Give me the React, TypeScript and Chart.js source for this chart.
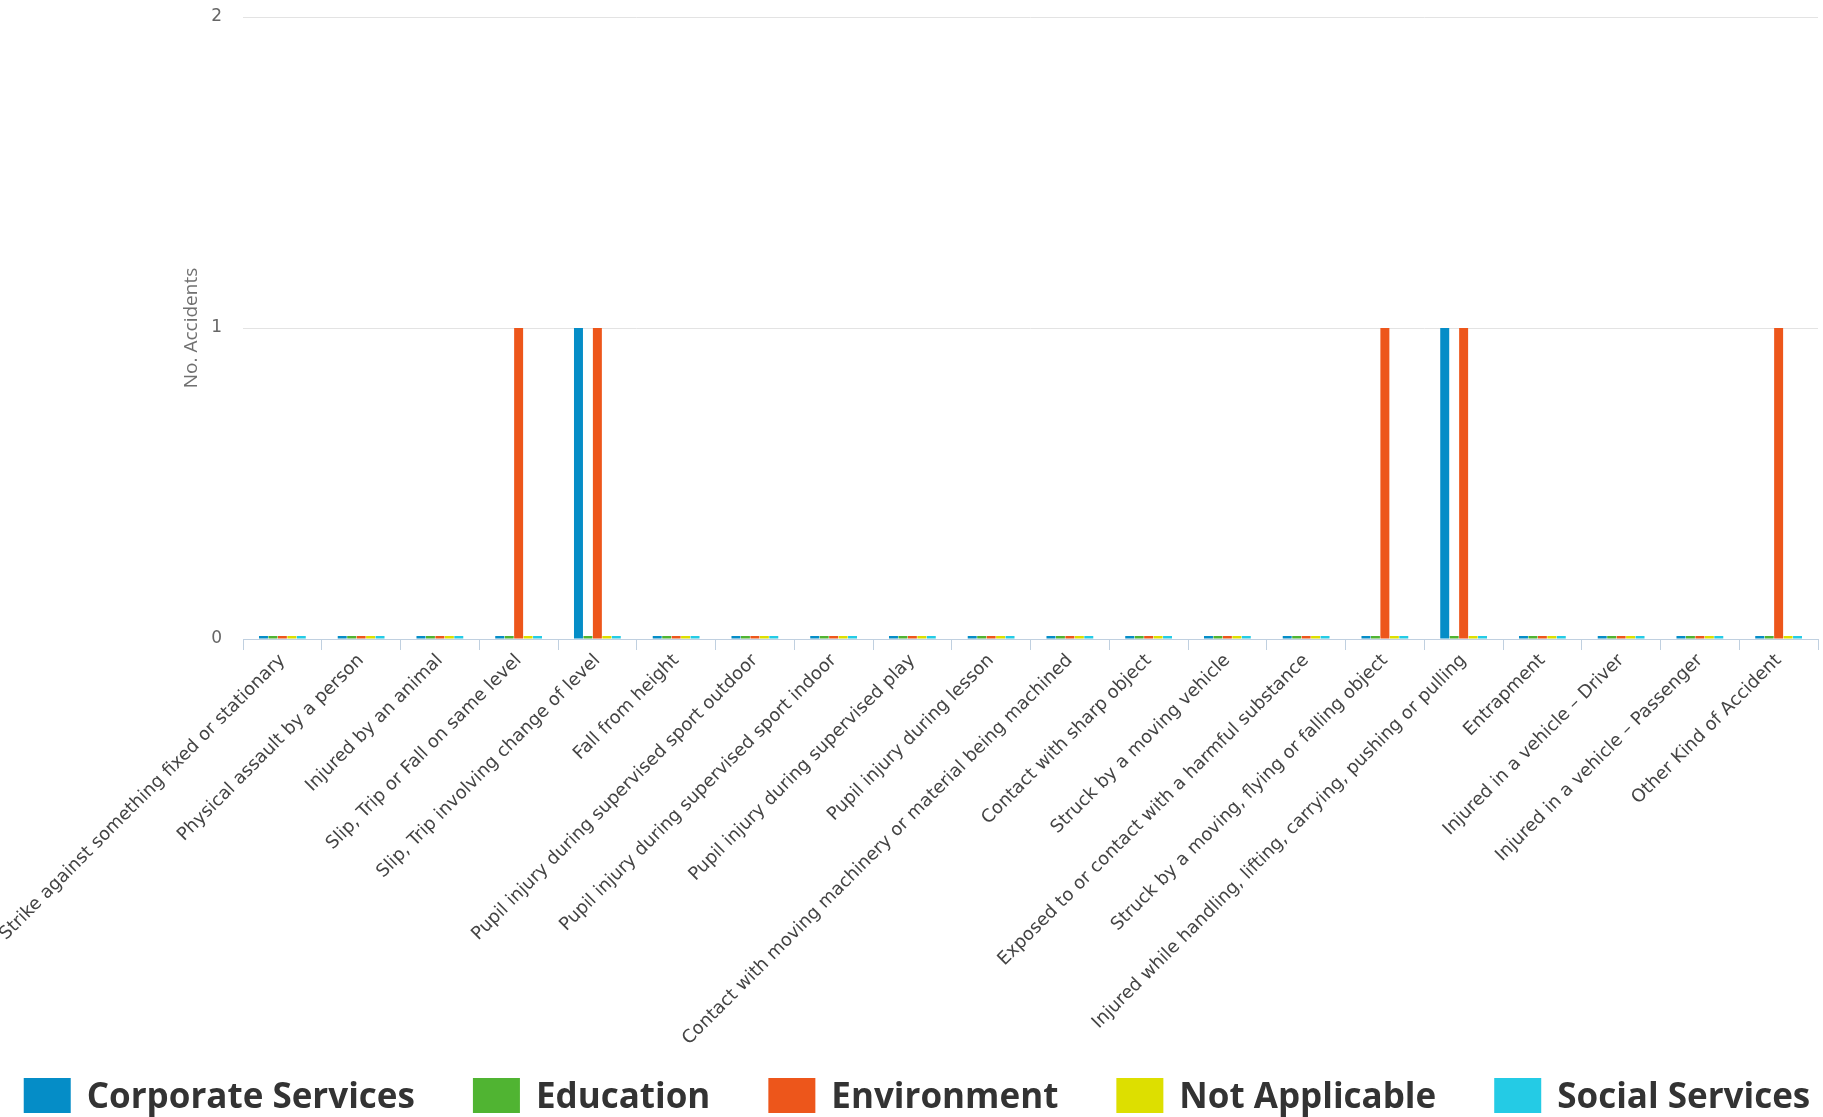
import React, { useEffect, useRef } from "react";
import { Chart, registerables } from "chart.js";

Chart.register(...registerables);

const categories = [
  "Strike against something fixed or stationary",
  "Physical assault by a person",
  "Injured by an animal",
  "Slip, Trip or Fall on same level",
  "Slip, Trip involving change of level",
  "Fall from height",
  "Pupil injury during supervised sport outdoor",
  "Pupil injury during supervised sport indoor",
  "Pupil injury during supervised play",
  "Pupil injury during lesson",
  "Contact with moving machinery or material being machined",
  "Contact with sharp object",
  "Struck by a moving vehicle",
  "Exposed to or contact with a harmful substance",
  "Struck by a moving, flying or falling object",
  "Injured while handling, lifting, carrying, pushing or pulling",
  "Entrapment",
  "Injured in a vehicle – Driver",
  "Injured in a vehicle – Passenger",
  "Other Kind of Accident",
];

const corporateServices = [0, 0, 0, 0, 1, 0, 0, 0, 0, 0, 0, 0, 0, 0, 0, 1, 0, 0, 0, 0];
const education = [0, 0, 0, 0, 0, 0, 0, 0, 0, 0, 0, 0, 0, 0, 0, 0, 0, 0, 0, 0];
const environment = [0, 0, 0, 1, 1, 0, 0, 0, 0, 0, 0, 0, 0, 0, 1, 1, 0, 0, 0, 1];
const notApplicable = [0, 0, 0, 0, 0, 0, 0, 0, 0, 0, 0, 0, 0, 0, 0, 0, 0, 0, 0, 0];
const socialServices = [0, 0, 0, 0, 0, 0, 0, 0, 0, 0, 0, 0, 0, 0, 0, 0, 0, 0, 0, 0];

const seriesNames = ["Corporate Services", "Education", "Environment", "Not Applicable", "Social Services"];
const seriesColors = ["#058DC7", "#50B432", "#ED561B", "#DDDF00", "#24CBE5"];

const yMin = 0;
const yMax = 2;
const yStep = 1;
const yTitle = "No. Accidents";

const W = 1823;
const H = 1117;

const legendPlugin = {
  id: "customLegend",
  afterDraw(chart: any) {
    const ctx = chart.ctx as CanvasRenderingContext2D;
    ctx.save();
    ctx.font = 'bold 35px "Open Sans"';
    const boxW = 47;
    const boxH = 35;
    const textGap = 16;
    const itemGap = 58;
    const items = chart.data.datasets.map((ds: any) => ({
      label: ds.label as string,
      color: ds.backgroundColor as string,
      w: ctx.measureText(ds.label).width,
    }));
    const total =
      items.reduce((s: number, it: any) => s + boxW + textGap + it.w, 0) + itemGap * (items.length - 1);
    let x = 917 - total / 2;
    const yTop = 1078;
    for (const it of items) {
      ctx.fillStyle = it.color;
      ctx.fillRect(x, yTop, boxW, boxH);
      ctx.fillStyle = "#333333";
      ctx.textBaseline = "alphabetic";
      ctx.textAlign = "left";
      ctx.fillText(it.label, x + boxW + textGap, 1108);
      x += boxW + textGap + it.w + itemGap;
    }
    ctx.restore();
  },
};

export default function App() {
  const canvasRef = useRef<HTMLCanvasElement | null>(null);

  useEffect(() => {
    const canvas = canvasRef.current;
    if (!canvas) return;
    const seriesData = [corporateServices, education, environment, notApplicable, socialServices];
    const chart = new Chart(canvas, {
      type: "bar",
      data: {
        labels: categories,
        datasets: seriesData.map((d, i) => ({
          label: seriesNames[i],
          data: d,
          backgroundColor: seriesColors[i],
          borderWidth: 0,
          minBarLength: 3,
          categoryPercentage: 0.6,
          barPercentage: 0.95,
        })),
      },
      options: {
        responsive: false,
        animation: false,
        devicePixelRatio: 1,
        layout: { padding: { top: 17, left: 0, right: 5, bottom: 38 } },
        plugins: {
          legend: { display: false },
          tooltip: { enabled: false },
        },
        scales: {
          x: {
            offset: true,
            grid: {
              drawOnChartArea: false,
              drawTicks: true,
              tickLength: 11,
              color: "#c0d0e0",
              offset: true,
            },
            border: { display: true, color: "#c0d0e0", width: 1 },
            ticks: {
              autoSkip: false,
              minRotation: 45,
              maxRotation: 45,
              padding: 0,
              color: "#444444",
              font: { family: '"DejaVu Sans"', size: 18 },
            },
            afterFit: (scale: any) => {
              scale.paddingLeft = 0;
              scale.paddingRight = 0;
              scale.height = 440;
            },
          },
          y: {
            min: yMin,
            max: yMax,
            grid: { color: "#e3e3e3", drawTicks: false, lineWidth: 1 },
            border: { display: false },
            ticks: {
              stepSize: yStep,
              padding: 21,
              color: "#666666",
              font: { family: '"DejaVu Sans"', size: 17 },
            },
            title: {
              display: true,
              text: yTitle,
              color: "#707070",
              font: { family: '"Open Sans"', size: 19 },
              padding: { top: 180, bottom: 0 },
            },
            afterFit: (scale: any) => {
              scale.width = 243;
              scale.paddingTop = 0;
              scale.paddingBottom = 0;
            },
          },
        },
      },
      plugins: [legendPlugin],
    });
    return () => chart.destroy();
  }, []);

  return (
    <div style={{ position: "fixed", left: 0, top: 0, width: W, height: H, background: "#ffffff" }}>
      <canvas ref={canvasRef} width={W} height={H} style={{ display: "block", width: W, height: H }} />
    </div>
  );
}
